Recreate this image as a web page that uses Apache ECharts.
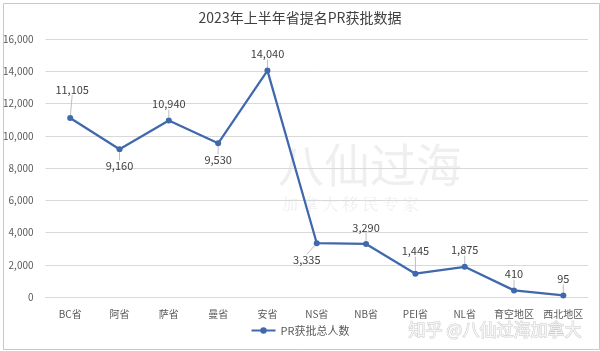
<!DOCTYPE html>
<html>
<head>
<meta charset="utf-8">
<style>
  html, body { margin: 0; padding: 0; background: #fff; }
  #chart { width: 600px; height: 351px; }
</style>
<script src="https://cdn.jsdelivr.net/npm/echarts@6/dist/echarts.min.js"></script>
</head>
<body>
<div id="chart"></div>
<script>
const categories = ["BC省", "阿省", "萨省", "曼省", "安省", "NS省", "NB省", "PEI省", "NL省", "育空地区", "西北地区"];
const approvals = [11105, 9160, 10940, 9530, 14040, 3335, 3290, 1445, 1875, 410, 95];
// label placement per point: [position, extra dx, extra dy]
const labelPlace = [
  ["top", 2, -12], ["bottom", 0, 0], ["top", 0, 0], ["bottom", 0, 0], ["top", 0, 0],
  ["bottom", -10, 0], ["top", 0, 0], ["top", 0, -6], ["top", 0, 0], ["top", 0, 0], ["top", 0, 0],
];

const FONT = '"Noto Sans CJK SC", "Noto Sans", sans-serif';
const lineBlue = "#4068ad";
const grey = "#595959";
const gridColor = "#d9d9d9";

const chart = echarts.init(document.getElementById("chart"));

const option = {
  animation: false,
  textStyle: { fontFamily: FONT },
  title: {
    text: "2023年上半年省提名PR获批数据",
    left: "center",
    top: 6,
    textStyle: { fontSize: 14, fontWeight: "normal", color: "#404040", fontFamily: FONT },
  },
  graphic: [
    {
      type: "rect",
      left: 1, top: 1,
      shape: { width: 596, height: 346 },
      style: { fill: "none", stroke: "#c8c8c8", lineWidth: 1 },
      z: -1,
    },
    {
      type: "text",
      left: 278, top: 142,
      style: { text: "八仙过海", font: '46px "Noto Sans CJK SC"', fill: "#efefef" },
      z: -1,
    },
    {
      type: "text",
      left: 282, top: 196,
      style: { text: "加 拿 大 移 民 专 家", font: '16px "Noto Serif CJK SC", "Noto Sans CJK SC"', fill: "#efefef" },
      z: -1,
    },
    {
      type: "text",
      left: 408, top: 321,
      style: {
        text: "知乎 @八仙过海加拿大",
        font: '17px "Noto Sans CJK SC"',
        fill: "#f6f6f6",
        stroke: "#cccccc",
        lineWidth: 1,
      },
      z: 10,
    },
  ],
  legend: {
    bottom: 10,
    left: "center",
    itemWidth: 24,
    itemHeight: 8,
    data: ["PR获批总人数"],
    textStyle: { fontSize: 11, color: grey, fontFamily: FONT },
  },
  grid: { left: 45, right: 12, top: 39, bottom: 54, containLabel: false },
  xAxis: {
    type: "category",
    data: categories,
    boundaryGap: true,
    axisLine: { lineStyle: { color: gridColor } },
    axisTick: { show: false },
    axisLabel: { color: grey, fontSize: 10, margin: 12, interval: 0 },
  },
  yAxis: {
    type: "value",
    min: 0,
    max: 16000,
    interval: 2000,
    axisLine: { show: false },
    axisTick: { show: false },
    splitLine: { lineStyle: { color: gridColor } },
    axisLabel: {
      color: grey,
      fontSize: 10,
      margin: 12,
      formatter: (v) => v.toLocaleString("en-US"),
    },
  },
  series: [
    {
      name: "PR获批总人数",
      type: "line",
      symbol: "circle",
      symbolSize: 6,
      lineStyle: { color: lineBlue, width: 2.25 },
      itemStyle: { color: lineBlue },
      data: approvals.map((v, i) => ({
        value: v,
        label: { position: labelPlace[i][0] },
      })),
      label: {
        show: true,
        distance: 8,
        fontSize: 11,
        color: "#404040",
        formatter: (p) => p.value.toLocaleString("en-US"),
      },
      labelLine: { show: true, lineStyle: { color: "#bfbfbf", width: 1 } },
      labelLayout: (params) => {
        const pl = labelPlace[params.dataIndex];
        return { dx: pl[1], dy: pl[2] };
      },
    },
  ],
};

chart.setOption(option);
</script>
</body>
</html>
